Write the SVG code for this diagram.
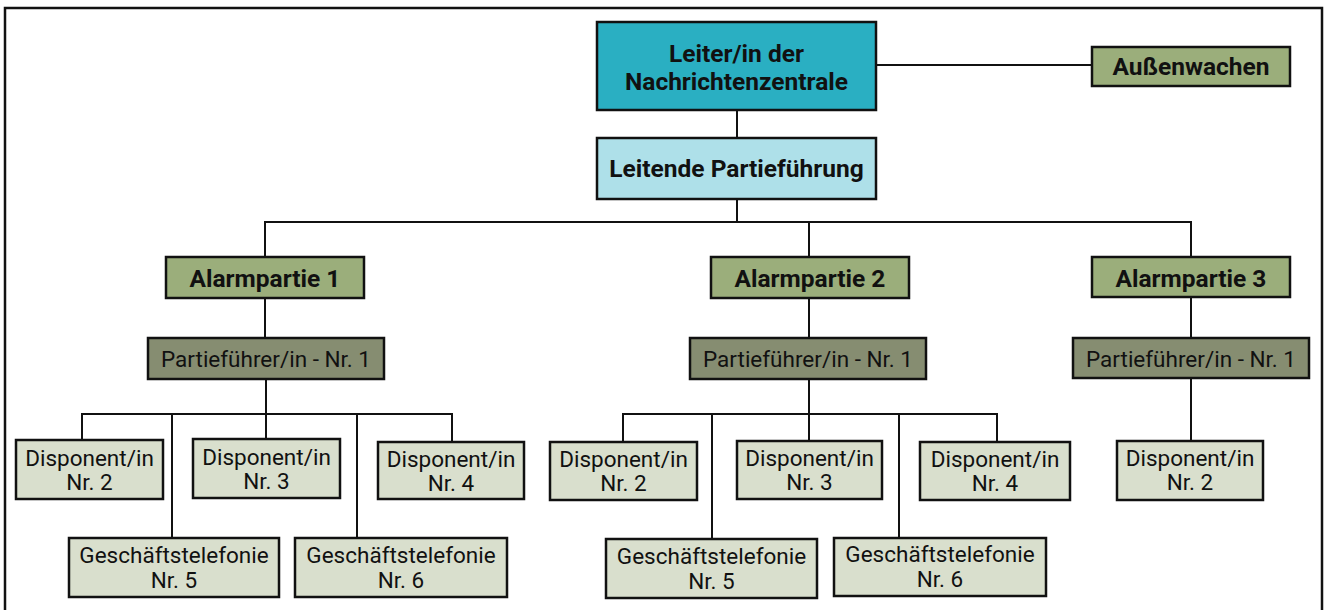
<svg xmlns="http://www.w3.org/2000/svg" width="1326" height="610" viewBox="0 0 1326 610">
<style>
rect{stroke:#111;stroke-width:2.5}
.lv1{fill:#2aafc2}
.lv2{fill:#aee0e9}
.alarm{fill:#9bae7b}
.pf{fill:#868d71}
.disp{fill:#d9dfcd}
text{font-family:Roboto,"Liberation Sans",sans-serif;fill:#111;text-anchor:middle}
.b{font-weight:bold;font-size:24.5px}
.r{font-size:22.5px}
#connectors path{fill:none;stroke:#111;stroke-width:2}
</style>
<rect x="0" y="0" width="1326" height="610" style="fill:#fff;stroke:none"/>
<path d="M5 625V8H1322V625" fill="none" stroke="#111" stroke-width="2.5"/>
<g id="connectors">
<path d="M876 65H1092"/>
<path d="M737 110V138"/>
<path d="M737 199V222"/>
<path d="M265 257V222H1191V257"/>
<path d="M809 222V257"/>
<path d="M265 298V338"/>
<path d="M809 298V338"/>
<path d="M1191 297V338"/>
<path d="M266 379V414"/>
<path d="M82 440V414H452V442"/>
<path d="M172 414V538"/>
<path d="M266 414V439"/>
<path d="M357 414V538"/>
<path d="M809 379V414"/>
<path d="M623 442V414H997V442"/>
<path d="M712 414V539"/>
<path d="M809 414V441"/>
<path d="M899 414V538"/>
<path d="M1191 378V441"/>
</g>
<g id="leiter"><rect class="lv1" x="597" y="22" width="279" height="88"/><text class="b" x="736.5" y="62">Leiter/in der</text><text class="b" x="736.5" y="90">Nachrichtenzentrale</text></g>
<g id="aussenwachen"><rect class="alarm" x="1092" y="47" width="198" height="39"/><text class="b" x="1191" y="75">Außenwachen</text></g>
<g id="leitende"><rect class="lv2" x="597" y="138" width="279" height="61"/><text class="b" x="736.5" y="177">Leitende Partieführung</text></g>
<g id="alarm1"><rect class="alarm" x="166" y="257" width="198" height="41"/><text class="b" x="265" y="287">Alarmpartie 1</text></g>
<g id="alarm2"><rect class="alarm" x="711" y="257" width="198" height="41"/><text class="b" x="810" y="287">Alarmpartie 2</text></g>
<g id="alarm3"><rect class="alarm" x="1092" y="257" width="198" height="40"/><text class="b" x="1191" y="286.5">Alarmpartie 3</text></g>
<g id="pf1"><rect class="pf" x="148" y="338" width="236" height="41"/><text class="r" x="266" y="367">Partieführer/in - Nr. 1</text></g>
<g id="pf2"><rect class="pf" x="690" y="338" width="236" height="41"/><text class="r" x="808" y="367">Partieführer/in - Nr. 1</text></g>
<g id="pf3"><rect class="pf" x="1073" y="338" width="236" height="40"/><text class="r" x="1191" y="366.5">Partieführer/in - Nr. 1</text></g>
<g id="a1d2"><rect class="disp" x="16" y="440" width="147" height="59"/><text class="r" x="89.5" y="466">Disponent/in</text><text class="r" x="89.5" y="490">Nr. 2</text></g>
<g id="a1d3"><rect class="disp" x="193" y="439" width="147" height="59"/><text class="r" x="266.5" y="465">Disponent/in</text><text class="r" x="266.5" y="489">Nr. 3</text></g>
<g id="a1d4"><rect class="disp" x="378" y="442" width="146" height="57"/><text class="r" x="451" y="467">Disponent/in</text><text class="r" x="451" y="491">Nr. 4</text></g>
<g id="a1g5"><rect class="disp" x="69" y="538" width="210" height="59"/><text class="r" x="174" y="563">Geschäftstelefonie</text><text class="r" x="174" y="588">Nr. 5</text></g>
<g id="a1g6"><rect class="disp" x="295" y="538" width="212" height="59"/><text class="r" x="401" y="563">Geschäftstelefonie</text><text class="r" x="401" y="588">Nr. 6</text></g>
<g id="a2d2"><rect class="disp" x="550" y="442" width="147" height="58"/><text class="r" x="623.5" y="467">Disponent/in</text><text class="r" x="623.5" y="491">Nr. 2</text></g>
<g id="a2d3"><rect class="disp" x="737" y="441" width="145" height="58"/><text class="r" x="809.5" y="466">Disponent/in</text><text class="r" x="809.5" y="490">Nr. 3</text></g>
<g id="a2d4"><rect class="disp" x="920" y="442" width="150" height="58"/><text class="r" x="995" y="467">Disponent/in</text><text class="r" x="995" y="491">Nr. 4</text></g>
<g id="a2g5"><rect class="disp" x="606" y="539" width="211" height="59"/><text class="r" x="711.5" y="564">Geschäftstelefonie</text><text class="r" x="711.5" y="589">Nr. 5</text></g>
<g id="a2g6"><rect class="disp" x="834" y="538" width="212" height="58"/><text class="r" x="940" y="562">Geschäftstelefonie</text><text class="r" x="940" y="587">Nr. 6</text></g>
<g id="a3d2"><rect class="disp" x="1117" y="441" width="146" height="59"/><text class="r" x="1190" y="466">Disponent/in</text><text class="r" x="1190" y="490">Nr. 2</text></g>
</svg>
